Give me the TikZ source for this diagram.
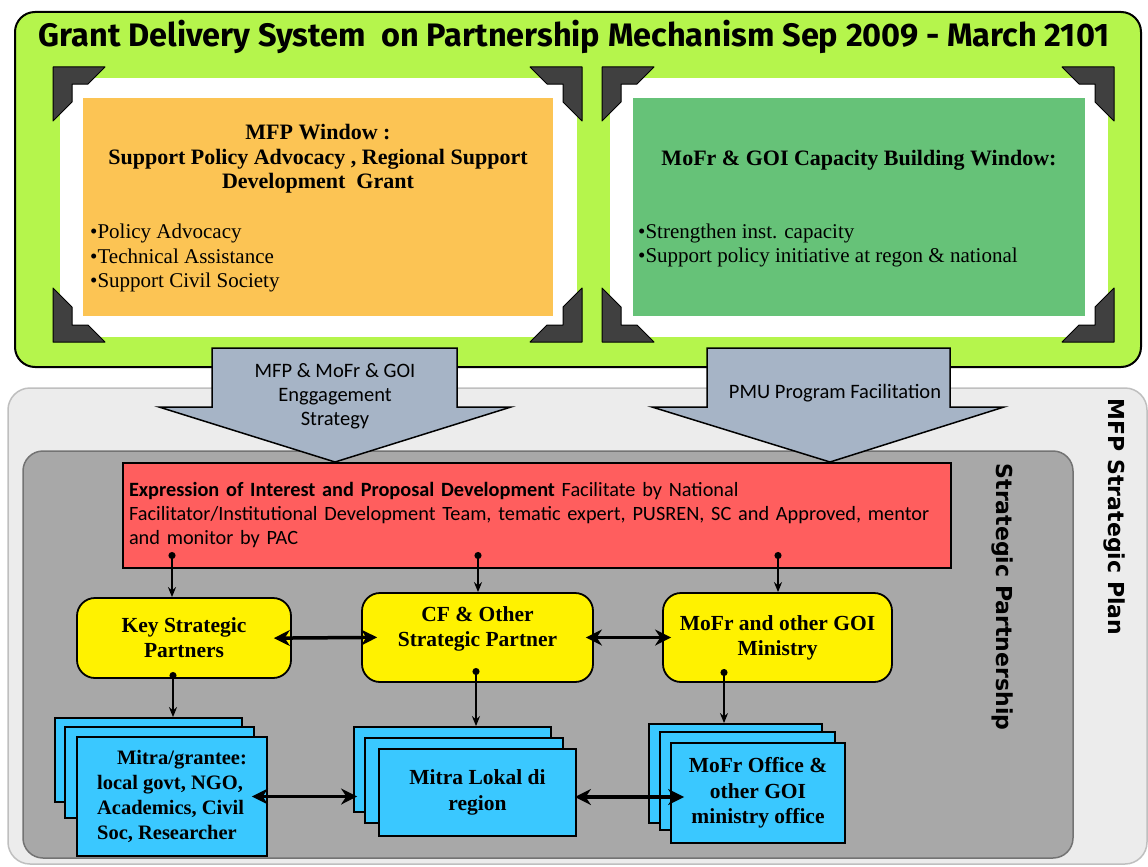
\documentclass[tikz,border=0pt]{standalone}
\usepackage{fontspec}
\setmainfont{Liberation Serif}
\newfontfamily\gillfont{Carlito}
\newfontfamily\titlefont{Fira Sans}
\newfontfamily\sidefont{DejaVu Sans}
\usetikzlibrary{arrows.meta}

\definecolor{limegreen}{RGB}{181,245,76}
\definecolor{mfporange}{RGB}{252,196,84}
\definecolor{goigreen}{RGB}{102,194,120}
\definecolor{arrowgray}{RGB}{166,180,198}
\definecolor{lightbox}{RGB}{236,236,236}
\definecolor{darkbox}{RGB}{168,168,168}
\definecolor{eoired}{RGB}{255,94,94}
\definecolor{mitrablue}{RGB}{58,200,255}

\tikzset{
	corner/.style={draw=black, fill=black!75, line width=1pt, line join=round},
	bigarrow/.style={draw=black, fill=arrowgray, line width=1.5pt},
	yellowbox/.style={draw=black, fill=yellow, line width=1.8pt, rounded corners=18pt, align=center, font=\bfseries\fontsize{21.5}{25}\selectfont},
	bluebox/.style={draw=black, fill=mitrablue, line width=1.8pt, inner sep=0pt},
	conn/.style={{Circle[length=7pt]}-{Stealth[length=10pt,width=8pt]}, line width=1.6pt},
	biarrow/.style={{Stealth[length=16pt,width=16pt]}-{Stealth[length=16pt,width=16pt]}, line width=3.5pt}
}

\begin{document}
\begin{tikzpicture}[x=1pt, y=-1pt]
	\useasboundingbox (0,0) rectangle (1148,867);
	\fill[white] (0,0) rectangle (1148,867);

	% top window panel
	\filldraw[draw=black, fill=limegreen, line width=2pt, rounded corners=20pt] (15,12) rectangle (1141,367);
	\node[font=\titlefont\bfseries\fontsize{32.5}{34}\selectfont] (title) at (574,37) {Grant Delivery System\ \ on Partnership Mechanism Sep 2009 - March 2101};

	\fill[white] (60,78) rectangle (577,337);
	\node[fill=mfporange, minimum width=470pt, minimum height=218pt, inner sep=0pt] (mfpbox) at (318,207) {};
	\fill[white] (610,78) rectangle (1108,337);
	\node[fill=goigreen, minimum width=452pt, minimum height=218pt, inner sep=0pt] (goibox) at (859,207) {};
	\foreach \cx/\cy/\sx/\sy in {53/67/1/1, 582/67/-1/1, 53/342/1/-1, 582/342/-1/-1, 602/67/1/1, 1114/67/-1/1, 602/342/1/-1, 1114/342/-1/-1}
		\filldraw[corner, shift={(\cx,\cy)}, xscale=\sx, yscale=\sy] (0,0) -- (52,0) -- (35,17) -- (19,17) -- (19,35) -- (0,54) -- cycle;

	\node[align=center, font=\bfseries\fontsize{22}{24.5}\selectfont] (mfptitle) at (318,159) {MFP Window :\\ Support Policy Advocacy , Regional Support\\ Development\ \ Grant};
	\node[anchor=west, align=left, font=\fontsize{21}{24.5}\selectfont, inner sep=0pt] (mfplist) at (90,258) {\textbullet Policy Advocacy\\ \textbullet Technical Assistance\\ \textbullet Support Civil Society};
	\node[font=\bfseries\fontsize{22}{24}\selectfont] (goititle) at (859,160) {MoFr \& GOI Capacity Building Window:};
	\node[anchor=west, align=left, font=\fontsize{21}{24}\selectfont, inner sep=0pt] (goilist) at (638,245) {\textbullet Strengthen inst. capacity\\ \textbullet Support policy initiative at regon \& national};

	% strategic plan panels
	\filldraw[draw=black!25, fill=lightbox, line width=1.5pt, rounded corners=22pt] (8,388) rectangle (1147,864);
	\filldraw[draw=black!55, fill=darkbox, line width=1.5pt, rounded corners=20pt] (23,451) rectangle (1073,858);
	\node[rotate=-90, font=\sidefont\bfseries\fontsize{22}{24}\selectfont] (plan) at (1114,517) {MFP Strategic Plan};
	\node[rotate=-90, font=\sidefont\bfseries\fontsize{22}{24}\selectfont] (partner) at (1002,597) {Strategic Partnership};

	% big arrows
	\draw[bigarrow] (212,348) -- (457,348) -- (457,407) -- (511,407) -- (335,462) -- (159,407) -- (212,407) -- cycle;
	\node[align=center, font=\gillfont\fontsize{20.5}{24}\selectfont] (engage) at (335,396) {MFP \& MoFr \& GOI\\ Enggagement\\ Strategy};
	\draw[bigarrow] (707,348) -- (950,348) -- (950,407) -- (1004,407) -- (830,462) -- (652,407) -- (707,407) -- cycle;
	\node[font=\gillfont\fontsize{20.5}{24}\selectfont] (pmu) at (835,393) {PMU Program Facilitation};

	% expression of interest
	\node[draw=black, fill=eoired, line width=1.8pt, minimum height=105pt, text width=816pt, inner xsep=6pt, align=left, font=\gillfont\fontsize{20.3}{24}\selectfont] (eoi) at (537,515.5)
		{\textbf{Expression of Interest and Proposal Development} Facilitate by National\\ Facilitator/Institutional Development Team, tematic expert, PUSREN, SC and Approved, mentor\\ and monitor by PAC};

	% partners
	\node[yellowbox, minimum width=214pt, minimum height=80pt] (ksp) at (184,638) {Key Strategic\\ Partners};
	\node[yellowbox, minimum width=231pt, minimum height=89pt] (cfp) at (477.5,637.5) {CF \& Other\\ Strategic Partner\\[-4pt]};
	\node[yellowbox, minimum width=229pt, minimum height=89pt] (mofr) at (777.5,637.5) {MoFr and other GOI\\ Ministry};

	% stacked grantees
	\node[bluebox, minimum width=187pt, minimum height=84pt] (mitB) at (148.5,760) {};
	\draw[bluebox] (65,727) rectangle (254,818);
	\node[bluebox, minimum width=190pt, minimum height=119pt, inner xsep=6pt, align=left, font=\bfseries\fontsize{20.5}{25}\selectfont] (mitF) at (172,796.5)
		{\hspace*{20pt}Mitra/grantee:\\ local govt, NGO,\\ Academics, Civil\\ Soc, Researcher};
	\node[bluebox, minimum width=197pt, minimum height=85pt] (lokB) at (452.5,769.5) {};
	\draw[bluebox] (365,738) rectangle (563,823);
	\node[bluebox, minimum width=197pt, minimum height=87pt, align=center, font=\bfseries\fontsize{21.5}{26}\selectfont] (lokF) at (477.5,792.5) {Mitra Lokal di\\ region};
	\node[bluebox, minimum width=173pt, minimum height=99pt] (modB) at (735.5,773.5) {};
	\draw[bluebox] (660,732) rectangle (835,830);
	\node[bluebox, minimum width=174pt, minimum height=100pt, align=center, font=\bfseries\fontsize{21.5}{25.5}\selectfont] (modF) at (758,793) {MoFr Office \&\\ other GOI\\ ministry office};

	% connectors
	\coordinate (e1) at (172,552);
	\coordinate (e2) at (478,552);
	\coordinate (e3) at (778,552);
	\draw[conn] (e1) -- (e1 |- ksp.north);
	\draw[conn] (e2) -- (e2 |- cfp.north);
	\draw[conn] (e3) -- (e3 |- mofr.north);
	\coordinate (k1) at (173,672);
	\coordinate (k2) at (476,668);
	\coordinate (k3) at (724,669);
	\draw[conn] (k1) -- (k1 |- mitB.north);
	\draw[conn] (k2) -- (k2 |- lokB.north);
	\draw[conn] (k3) -- (k3 |- modB.north);
	\draw[biarrow, shorten <=-18pt, shorten >=-16pt] (ksp.east) -- (cfp.west);
	\draw[biarrow, shorten <=-8pt, shorten >=-9pt] (cfp.east) -- (mofr.west);
	\draw[biarrow, shorten <=-16pt, shorten >=-4pt] (mitF.east) -- (mitF.east -| lokB.west);
	\draw[biarrow, shorten <=-2pt, shorten >=-14pt] ([yshift=-4.5pt]lokF.east) -- ([yshift=-4.5pt]lokF.east -| modF.west);
\end{tikzpicture}
\end{document}
